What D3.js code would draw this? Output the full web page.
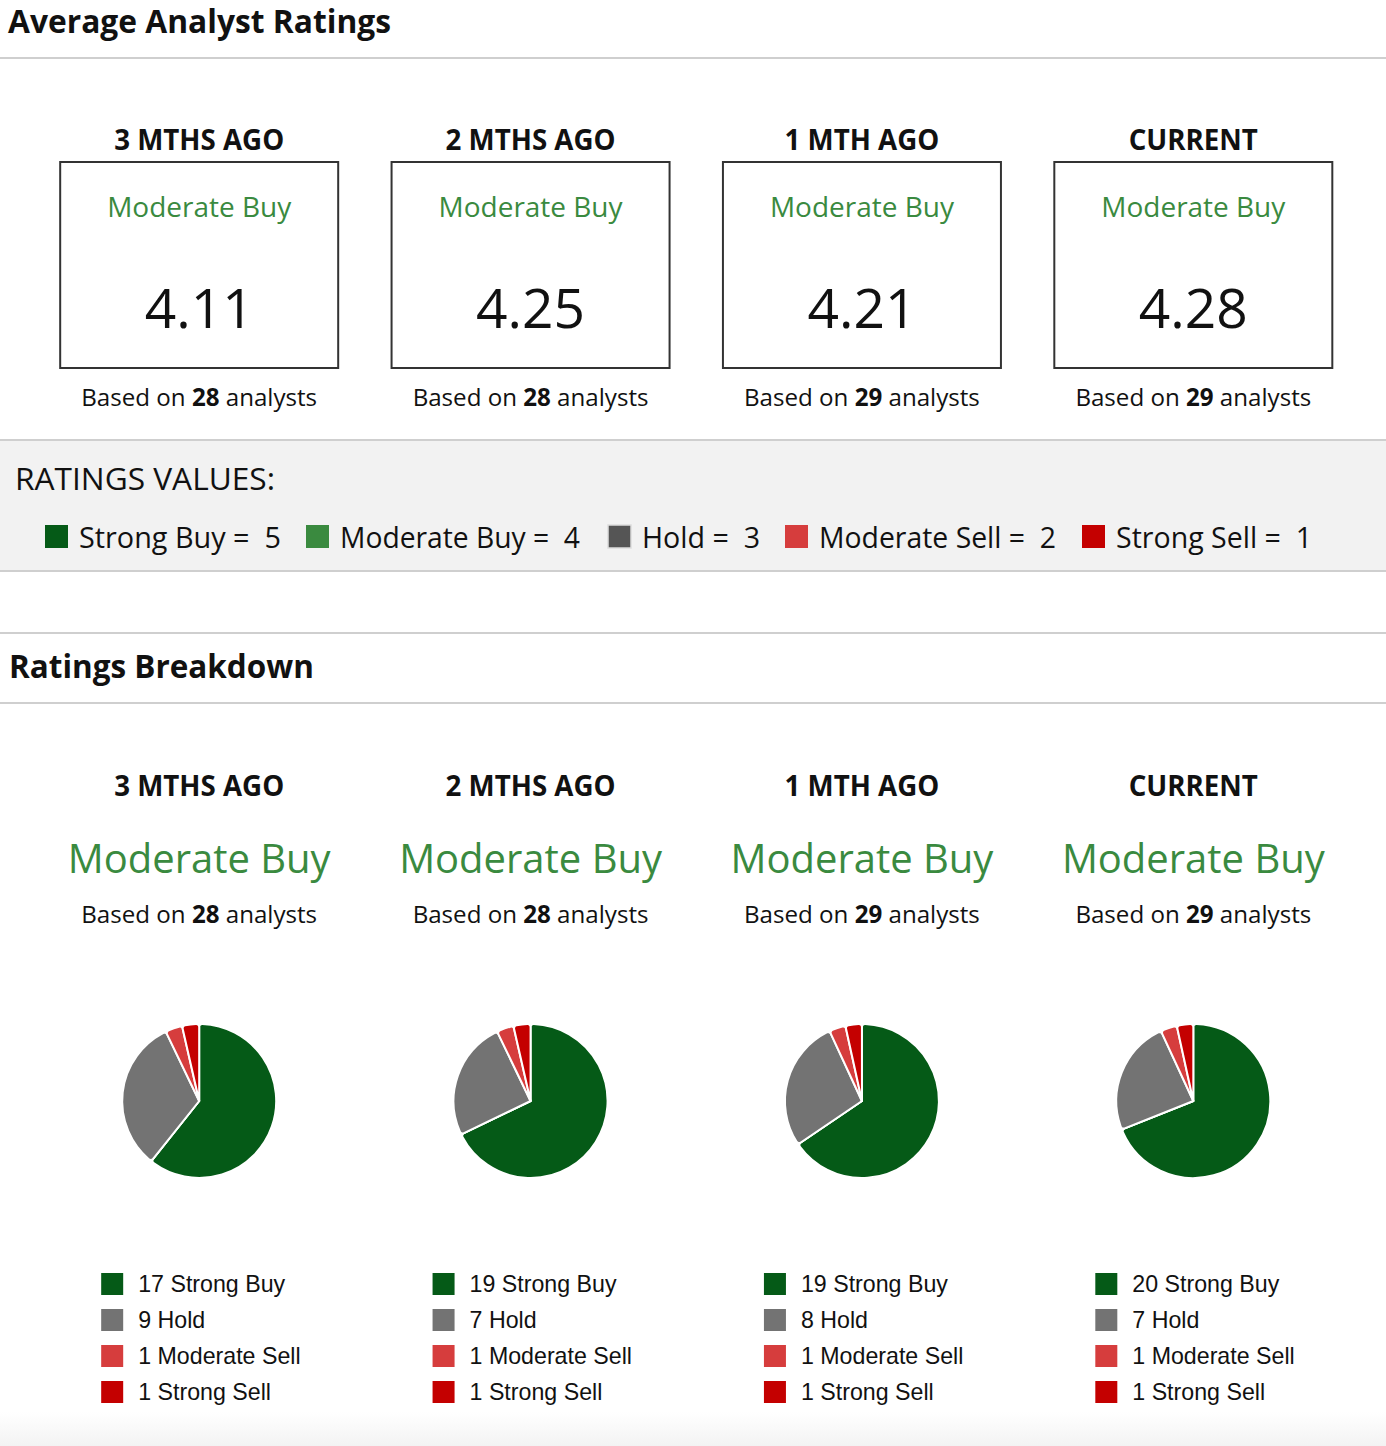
<!DOCTYPE html>
<html>
<head>
<meta charset="utf-8">
<script src="https://cdn.jsdelivr.net/npm/d3@7"></script>
<style>
html,body{margin:0;padding:0;background:#fff;}
svg{display:block;}
</style>
</head>
<body>
<div id="chart"></div>
<script>
// ---------- DATA ----------
const periods = ["3 MTHS AGO", "2 MTHS AGO", "1 MTH AGO", "CURRENT"];
const consensus = ["Moderate Buy", "Moderate Buy", "Moderate Buy", "Moderate Buy"];
const avgRatings = [4.11, 4.25, 4.21, 4.28];
const analystCounts = [28, 28, 29, 29];
const categories = ["Strong Buy", "Moderate Buy", "Hold", "Moderate Sell", "Strong Sell"];
const ratingValues = [5, 4, 3, 2, 1];
const strongBuy = [17, 19, 19, 20];
const moderateBuy = [0, 0, 0, 0];
const hold = [9, 7, 8, 7];
const moderateSell = [1, 1, 1, 1];
const strongSell = [1, 1, 1, 1];

// ---------- STYLE ----------
const W = 1386, H = 1446;
const FONT = "'Open Sans', 'Noto Sans', sans-serif";
const LEG_FONT = "'Liberation Sans', Arial, sans-serif";
const legendColors = ["#055a17", "#3a8a3f", "#555555", "#d63d3d", "#c40000"];
const pieColors = ["#055a17", "#3a8a3f", "#737373", "#d63d3d", "#c40000"];
const green = "#3a8a3f";
const lineColor = "#cfcfcf";

const svg = d3.select("#chart").append("svg").attr("width", W).attr("height", H);

// background gradient at bottom
const defs = svg.append("defs");
const grad = defs.append("linearGradient").attr("id", "bottomGrad").attr("x1", 0).attr("x2", 0).attr("y1", 0).attr("y2", 1);
grad.append("stop").attr("offset", "0%").attr("stop-color", "#ffffff");
grad.append("stop").attr("offset", "100%").attr("stop-color", "#f3f3f3");
svg.append("rect").attr("x", 0).attr("y", 1412).attr("width", W).attr("height", H - 1412).attr("fill", "url(#bottomGrad)");

// measuring helper: font size so text width matches a target
const meas = svg.append("text").attr("x", -9999).attr("y", -9999);
function fitSize(str, weight, family, target) {
  meas.attr("font-family", family).attr("font-weight", weight).attr("font-size", 100).text(str);
  const w = meas.node().getComputedTextLength();
  return 100 * target / w;
}

const x = d3.scaleBand().domain(periods).range([33.5, 1359]);
const cx = p => x(p) + x.bandwidth() / 2;

// ---------- SECTION 1 ----------
const titleSize = fitSize("Average Analyst Ratings", 700, FONT, 383);
svg.append("text").attr("x", 8).attr("y", 33).attr("font-family", FONT).attr("font-weight", 700)
  .attr("font-size", titleSize).attr("fill", "#111").text("Average Analyst Ratings");
svg.append("line").attr("x1", 0).attr("x2", W).attr("y1", 58).attr("y2", 58).attr("stroke", lineColor).attr("stroke-width", 2);

const headSize = fitSize("3 MTHS AGO", 700, FONT, 170);
const boxLabelSize = fitSize("Moderate Buy", 400, FONT, 184);
const numSize = fitSize("4.28", 400, FONT, 109);
const basedSize = fitSize("Based on 28 analysts", 400, FONT, 236) ;

const cols1 = svg.append("g").selectAll("g").data(periods).join("g")
  .attr("transform", p => `translate(${cx(p)},0)`);
cols1.append("text").attr("y", 150).attr("text-anchor", "middle").attr("font-family", FONT).attr("font-weight", 700)
  .attr("font-size", headSize).attr("fill", "#111").text(p => p);
cols1.append("rect").attr("x", -139).attr("y", 162).attr("width", 278).attr("height", 206)
  .attr("fill", "#fff").attr("stroke", "#333").attr("stroke-width", 2);
cols1.append("text").attr("y", 217).attr("text-anchor", "middle").attr("font-family", FONT)
  .attr("font-size", boxLabelSize).attr("fill", green).text((p, i) => consensus[i]);
cols1.append("text").attr("y", 328).attr("text-anchor", "middle").attr("font-family", FONT)
  .attr("font-size", numSize).attr("fill", "#111").text((p, i) => d3.format(".2f")(avgRatings[i]));
function basedOn(sel, y) {
  const t = sel.append("text").attr("y", y).attr("text-anchor", "middle").attr("font-family", FONT)
    .attr("font-size", basedSize).attr("fill", "#111");
  t.append("tspan").text("Based on ");
  t.append("tspan").attr("font-weight", 700).text((p, i) => analystCounts[i]);
  t.append("tspan").text(" analysts");
}
basedOn(cols1, 406);

// ratings values band
svg.append("rect").attr("x", 0).attr("y", 440).attr("width", W).attr("height", 131).attr("fill", "#f2f2f2");
svg.append("line").attr("x1", 0).attr("x2", W).attr("y1", 440).attr("y2", 440).attr("stroke", lineColor).attr("stroke-width", 2);
svg.append("line").attr("x1", 0).attr("x2", W).attr("y1", 571).attr("y2", 571).attr("stroke", lineColor).attr("stroke-width", 2);
svg.append("text").attr("x", 15).attr("y", 490).attr("font-family", FONT).attr("font-size", 31).attr("fill", "#111")
  .attr("textLength", 260).attr("lengthAdjust", "spacingAndGlyphs").text("RATINGS VALUES:");

const legendXs = [45, 306, 608, 785, 1082];
const legendTextW = [202, 240, 118, 237, 196];
const lg = svg.append("g").selectAll("g").data(categories).join("g")
  .attr("transform", (d, i) => `translate(${legendXs[i]},0)`);
lg.append("rect").attr("x", 0).attr("y", 525).attr("width", 23).attr("height", 23)
  .attr("fill", (d, i) => legendColors[i])
  .attr("stroke", (d, i) => i === 2 ? "#dddddd" : "none").attr("stroke-width", 1.5);
lg.append("text").attr("x", 34).attr("y", 548).attr("font-family", FONT).attr("font-size", 30).attr("fill", "#111")
  .attr("textLength", (d, i) => legendTextW[i]).attr("lengthAdjust", "spacingAndGlyphs")
  .style("white-space", "pre")
  .text((d, i) => `${d} =  ${ratingValues[i]}`);

// ---------- SECTION 2 ----------
svg.append("line").attr("x1", 0).attr("x2", W).attr("y1", 633).attr("y2", 633).attr("stroke", lineColor).attr("stroke-width", 2);
svg.append("line").attr("x1", 0).attr("x2", W).attr("y1", 703).attr("y2", 703).attr("stroke", lineColor).attr("stroke-width", 2);
svg.append("text").attr("x", 9).attr("y", 678).attr("font-family", FONT).attr("font-weight", 700)
  .attr("font-size", fitSize("Ratings Breakdown", 700, FONT, 305)).attr("fill", "#111").text("Ratings Breakdown");

const bigSize = fitSize("Moderate Buy", 400, FONT, 263);
const cols2 = svg.append("g").selectAll("g").data(periods).join("g")
  .attr("transform", p => `translate(${cx(p)},0)`);
cols2.append("text").attr("y", 796).attr("text-anchor", "middle").attr("font-family", FONT).attr("font-weight", 700)
  .attr("font-size", headSize).attr("fill", "#111").text(p => p);
cols2.append("text").attr("y", 873).attr("text-anchor", "middle").attr("font-family", FONT)
  .attr("font-size", bigSize).attr("fill", green).text((p, i) => consensus[i]);
basedOn(cols2, 923);

// pies
const series = [strongBuy, moderateBuy, hold, moderateSell, strongSell];
const pie = d3.pie().sort(null).value(d => d.v);
const arc = d3.arc().innerRadius(0).outerRadius(77).cornerRadius(3);
const pieG = cols2.append("g").attr("transform", "translate(0,1101)");
pieG.selectAll("path").data((p, i) => pie(categories.map((c, k) => ({c, k, v: series[k][i]}))))
  .join("path")
  .attr("d", arc)
  .attr("fill", d => pieColors[d.data.k])
  .attr("stroke", "#fff").attr("stroke-width", 2).attr("stroke-linejoin", "round");

// pie legends
const legSize = fitSize("17 Strong Buy", 400, LEG_FONT, 147);
const legG = cols2.append("g").attr("transform", "translate(-98,1273)");
legG.selectAll("g").data((p, i) => categories.map((c, k) => ({c, k, v: series[k][i]})).filter(d => d.v > 0))
  .join("g")
  .attr("transform", (d, j) => `translate(0,${j * 36})`)
  .call(g => {
    g.append("rect").attr("width", 22).attr("height", 22).attr("fill", d => pieColors[d.k]);
    g.append("text").attr("x", 37).attr("y", 19).attr("font-family", LEG_FONT).attr("font-size", legSize)
      .attr("fill", "#111").text(d => `${d.v} ${d.c}`);
  });
meas.remove();
</script>
</body>
</html>
